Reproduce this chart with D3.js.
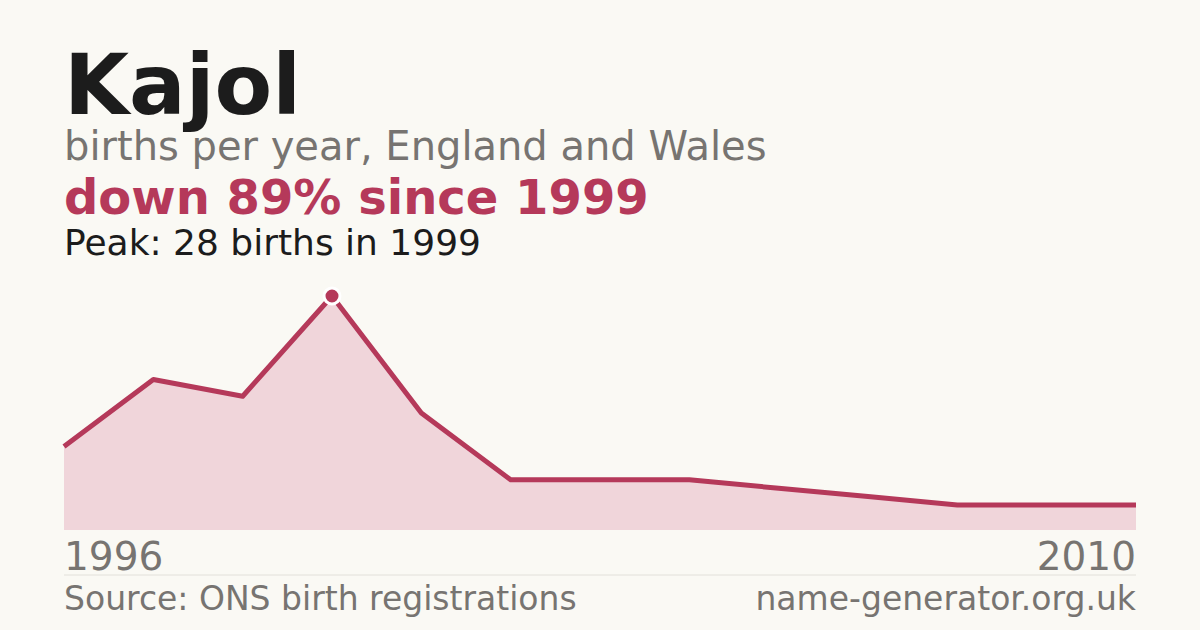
<!DOCTYPE html>
<html><head><meta charset="utf-8">
<script src="https://cdn.jsdelivr.net/npm/d3@7"></script>
<style>
body{margin:0;background:#faf9f4;font-family:"DejaVu Sans",sans-serif;}
</style></head>
<body><svg width="1200" height="630"></svg>
<script>
const years = [1996, 1997, 1998, 1999, 2000, 2001, 2002, 2003, 2004, 2006, 2007, 2009, 2010];
const births = [10, 18, 16, 28, 14, 6, 6, 6, 5, 4, 3, 3, 3];
const axisLabels = ["1996", "2010"];

const RED = "#b5395a";
const GREY = "#777471";
const svg = d3.select("svg");
svg.append("rect").attr("width", 1200).attr("height", 630).attr("fill", "#faf9f4");

const x = d3.scalePoint().domain(years).range([64, 1136]);
const y = d3.scaleLinear().domain([0, 28]).range([530, 296]);

const txt = (s, yy, size, fill, weight, anchor, xx) =>
  svg.append("text").attr("x", xx || 64).attr("y", yy).attr("font-size", size)
    .attr("fill", fill).attr("font-weight", weight || "normal")
    .attr("text-anchor", anchor || "start").text(s);

txt("Kajol", 114, 84, "#1c1c1c", "bold");
txt("births per year, England and Wales", 160, 40, GREY);
txt("down 89% since 1999", 214, 48, RED, "bold");
txt("Peak: 28 births in 1999", 255, 36, "#1c1c1c");

const pts = years.map((yr, i) => [yr, births[i]]);
svg.append("path").datum(pts)
  .attr("d", d3.area().x(d => x(d[0])).y0(530).y1(d => y(d[1])))
  .attr("fill", "#f0d5da");
svg.append("path").datum(pts)
  .attr("d", d3.line().x(d => x(d[0])).y(d => y(d[1])))
  .attr("fill", "none").attr("stroke", RED).attr("stroke-width", 5)
  .attr("stroke-linejoin", "round");

const peakIdx = births.indexOf(d3.max(births));
svg.append("circle").attr("cx", x(years[peakIdx])).attr("cy", y(births[peakIdx]))
  .attr("r", 8).attr("fill", RED).attr("stroke", "#fff").attr("stroke-width", 3);

txt(axisLabels[0], 570, 39, GREY, "normal", "start", x(years[0]));
txt(axisLabels[1], 570, 39, GREY, "normal", "end", x(years[years.length - 1]));

svg.append("line").attr("x1", 64).attr("x2", 1136).attr("y1", 575).attr("y2", 575)
  .attr("stroke", "#e2e0da").attr("stroke-width", 1);
txt("Source: ONS birth registrations", 610, 33, GREY);
txt("name-generator.org.uk", 610, 33, GREY, "normal", "end", 1136);
</script></body></html>
